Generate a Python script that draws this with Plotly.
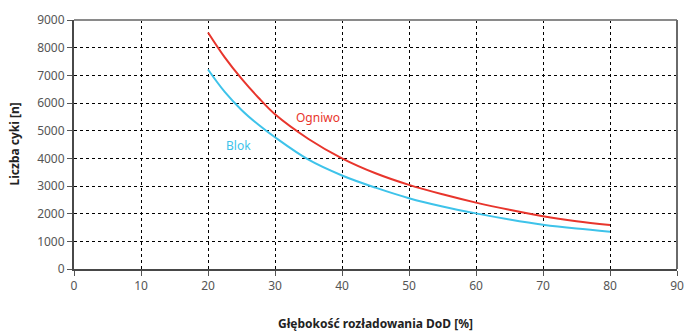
import plotly.graph_objects as go

dod = [20, 22.5, 25, 27.5, 30, 35, 40, 45, 50, 55, 60, 65, 70, 75, 80]
ogniwo = [8550, 7650, 6880, 6200, 5590, 4700, 4000, 3460, 3040, 2700, 2400, 2140, 1910, 1730, 1590]
blok = [7210, 6400, 5750, 5220, 4760, 3950, 3380, 2940, 2560, 2260, 2010, 1790, 1600, 1460, 1350]
x_ticks = [0, 10, 20, 30, 40, 50, 60, 70, 80, 90]
y_ticks = [0, 1000, 2000, 3000, 4000, 5000, 6000, 7000, 8000, 9000]

RED = "#e8352c"
BLUE = "#3ec3ea"
FONT = "Noto Sans"
TICK = "#555555"

fig = go.Figure()
fig.add_trace(go.Scatter(x=dod, y=ogniwo, mode="lines", line=dict(color=RED, width=2, shape="spline", smoothing=1.0), name="Ogniwo"))
fig.add_trace(go.Scatter(x=dod, y=blok, mode="lines", line=dict(color=BLUE, width=2, shape="spline", smoothing=1.0), name="Blok"))

fig.add_annotation(x=36.4, y=5490, text="Ogniwo", showarrow=False, font=dict(color=RED, size=12, family=FONT))
fig.add_annotation(x=24.6, y=4480, text="Blok", showarrow=False, font=dict(color=BLUE, size=12, family=FONT))

# axis titles
fig.add_annotation(x=0.5, y=0, xref="paper", yref="paper", yshift=-54, yanchor="middle",
                   text="<b>Głębokość rozładowania DoD [%]</b>", showarrow=False,
                   font=dict(size=12, color="#222222", family=FONT))
fig.add_annotation(x=0, y=0.5, xref="paper", yref="paper", xshift=-60, xanchor="center",
                   text="<b>Liczba cyki [n]</b>", showarrow=False, textangle=-90,
                   font=dict(size=12, color="#222222", family=FONT))

# lighter top and right frame
fig.add_shape(type="line", xref="paper", yref="paper", x0=0, x1=1, y0=1, y1=1,
              line=dict(color="#8a8a8a", width=2))
fig.add_shape(type="line", xref="paper", yref="paper", x0=1, x1=1, y0=0, y1=1,
              line=dict(color="#6a6a6a", width=2))

fig.update_layout(
    width=684, height=332,
    margin=dict(l=74, r=7, t=20, b=63, autoexpand=False),
    paper_bgcolor="white", plot_bgcolor="white",
    showlegend=False,
    font=dict(family=FONT, size=12, color=TICK),
    xaxis=dict(
        range=[0, 90], tickvals=x_ticks, ticktext=[str(v) for v in x_ticks],
        showgrid=True, gridcolor="black", griddash="dot", gridwidth=1,
        showline=True, linecolor="#484848", linewidth=2,
        ticks="outside", ticklen=5, tickcolor=TICK,
        tickfont=dict(size=12, color=TICK),
        automargin=False, zeroline=False,
    ),
    yaxis=dict(
        range=[0, 9000], tickvals=y_ticks, ticktext=[str(v) for v in y_ticks],
        showgrid=True, gridcolor="black", griddash="dot", gridwidth=1,
        showline=True, linecolor="#484848", linewidth=2,
        ticks="outside", ticklen=5, tickcolor=TICK,
        tickfont=dict(size=12, color=TICK),
        automargin=False, zeroline=False,
    ),
)

fig.write_html("out.html", config={"displayModeBar": False},
               post_script="document.body.style.margin='0';document.body.style.overflow='hidden';")
